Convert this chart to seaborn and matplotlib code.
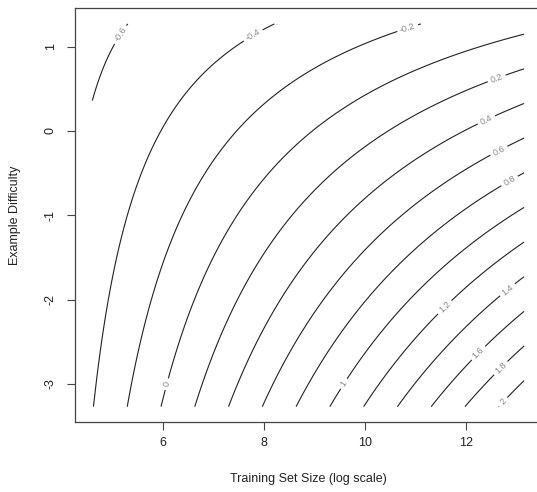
import numpy as np
import matplotlib
matplotlib.use('Agg')
import matplotlib.pyplot as plt
import seaborn as sns

# surface: z = a0 + a1*y + (b0 + b1*y) * x
x_data = [4.6, 13.15]       # log training set size covered by the grid
y_data = [-3.27, 1.27]      # example difficulty covered by the grid
intercept = [-1.194, 0.180]   # a0, a1
slope = [0.1333, -0.0507]     # b0, b1
levels = [-0.6, -0.4, -0.2, 0.0, 0.2, 0.4, 0.6, 0.8, 1.0, 1.2, 1.4, 1.6, 1.8, 2.0]
label_xy = [(5.11, 1.16), (7.78, 1.14), (10.85, 1.21), (6.06, -3.0),
            (12.61, 0.62), (12.42, 0.11), (12.63, -0.21), (12.85, -0.58),
            (9.56, -2.99), (11.58, -2.09), (12.83, -1.89), (12.24, -2.63),
            (12.67, -2.80), (12.73, -3.21)]
x_ticks = [6, 8, 10, 12]
y_ticks = [-3, -2, -1, 0, 1]

sns.set_style('ticks')
plt.rcParams['font.family'] = ['Liberation Sans', 'DejaVu Sans']
plt.rcParams['axes.unicode_minus'] = False

xs = np.linspace(x_data[0], x_data[1], 300)
ys = np.linspace(y_data[0], y_data[1], 300)
X, Y = np.meshgrid(xs, ys)
Z = intercept[0] + intercept[1] * Y + (slope[0] + slope[1] * Y) * X

fig = plt.figure(figsize=(5.37, 4.92), dpi=100)
ax = fig.add_axes([75 / 537, 70.3 / 492, 467 / 537, 413.4 / 492])

cs = ax.contour(X, Y, Z, levels=levels, colors='#222222', linewidths=0.8,
                negative_linestyles='solid')
ax.clabel(cs, levels, inline=True, inline_spacing=4, fontsize=6.5,
          colors='#888888', fmt=lambda v: f'{v:g}', manual=label_xy)

ax.set_xlim(4.257, 13.505)
ax.set_ylim(-3.448, 1.455)
ax.set_xticks(x_ticks)
ax.set_yticks(y_ticks)
ax.set_xticklabels([str(t) for t in x_ticks])
ax.set_yticklabels([str(t) for t in y_ticks], rotation=90, va='center')
ax.tick_params(direction='out', length=6, width=0.8, color='#444444',
               labelsize=9, labelcolor='#222222')
ax.tick_params(axis='x', pad=5)
ax.tick_params(axis='y', pad=7)
for s in ax.spines.values():
    s.set_color('#444444')
    s.set_linewidth(0.9)

ax.set_xlabel('Training Set Size (log scale)', fontsize=9, color='#222222', labelpad=17)
ax.set_ylabel('Example Difficulty', fontsize=9, color='#222222', labelpad=17)

fig.savefig('out.png', dpi=100)
